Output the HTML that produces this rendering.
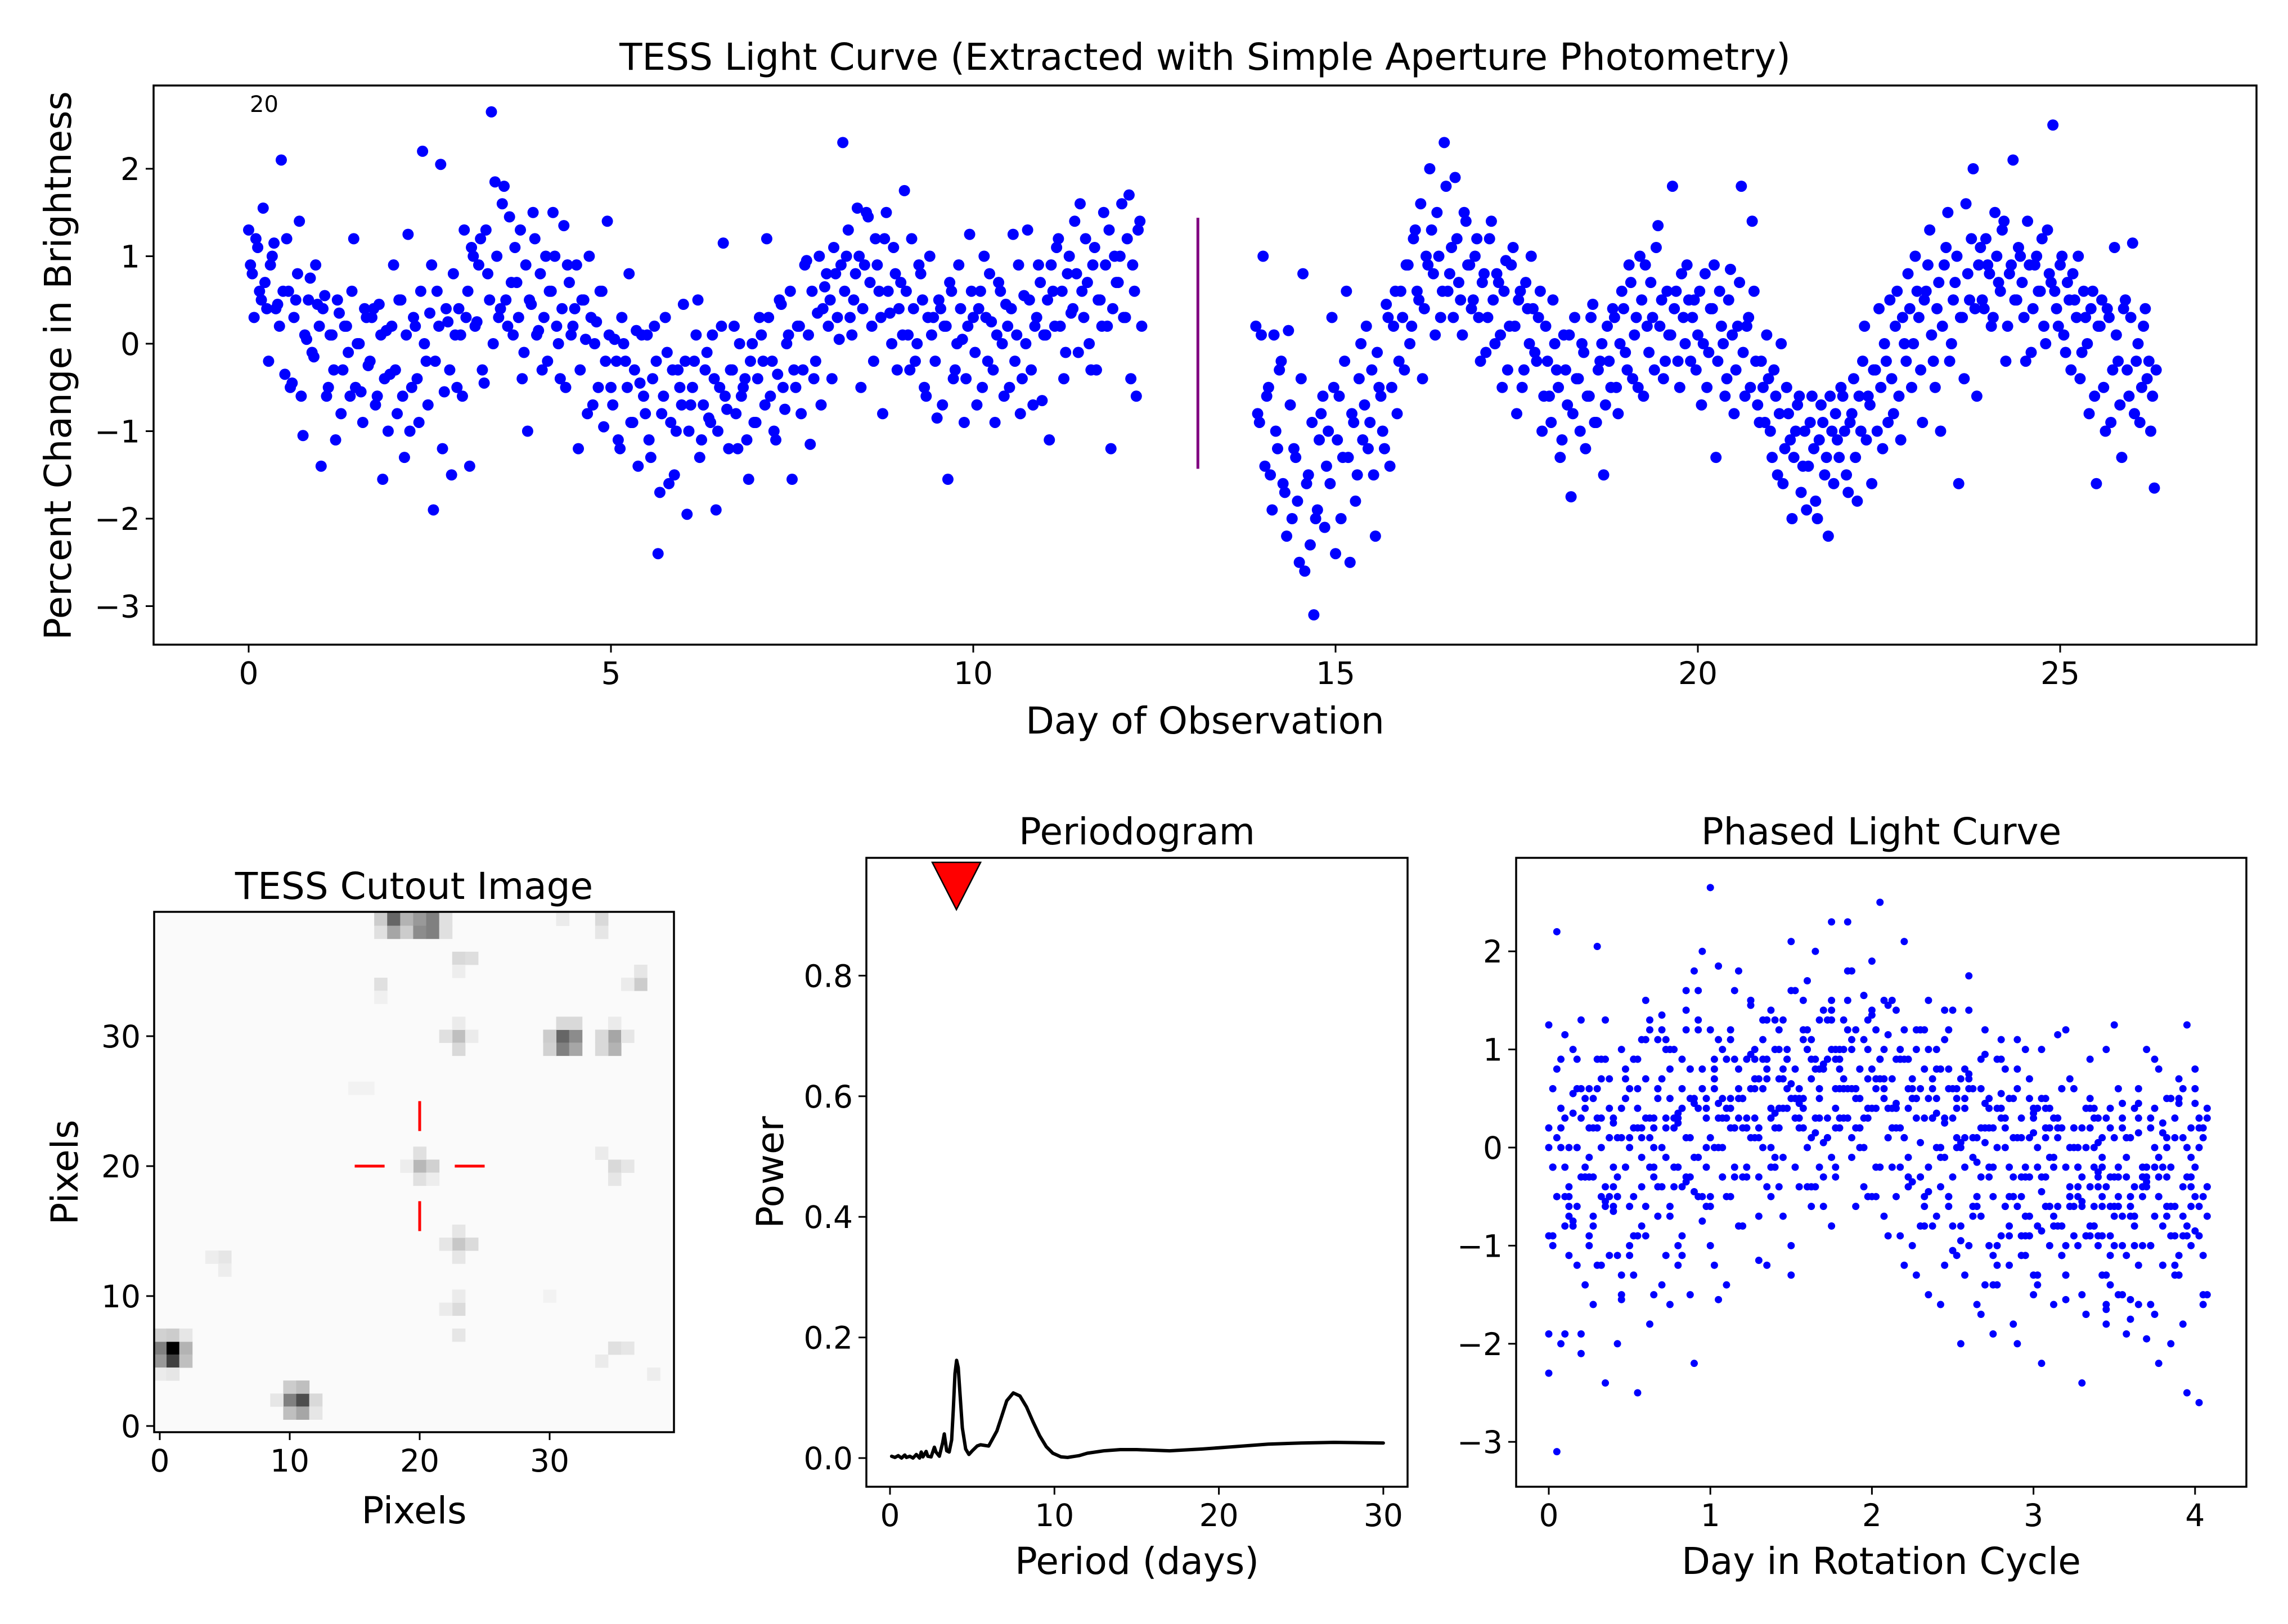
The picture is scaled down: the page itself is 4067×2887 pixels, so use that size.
<!DOCTYPE html>
<html><head><meta charset="utf-8"><style>
html,body{margin:0;padding:0;background:#fff;}
svg{display:block;font-family:"DejaVu Sans","Liberation Sans",sans-serif;}
</style></head><body>
<svg id="fig" xmlns="http://www.w3.org/2000/svg" width="4067" height="2887" viewBox="0 0 4067 2887">
<rect x="0" y="0" width="4067" height="2887" fill="#fff"/>
<g id="gTop"></g>
<g id="gCut"></g>
<g id="gPer"></g>
<g id="gPha"></g>
</svg>
<script>
// ---- Light curve data ----
const cadence = 0.05;
const seg1Start = 0.0;
const seg1Flux = [1.3,0.8,1.2,0.6,1.55,0.4,0.9,1.15,0.45,2.1,-0.35,0.6,-0.45,0.5,1.4,-1.05,0.05,0.75,-0.15,0.45,
-1.4,0.55,-0.5,0.1,-1.1,0.35,-0.3,0.2,-0.6,1.2,0.0,-0.55,0.4,-0.25,0.3,-0.7,0.45,-1.55,0.15,-0.35,
0.9,-0.8,0.5,-1.3,1.25,-0.5,0.2,-0.9,2.2,-0.2,0.35,-1.9,0.6,2.05,-0.55,0.25,-1.5,0.1,0.4,-0.6,
0.3,-1.4,1.0,0.25,1.2,-0.45,0.8,2.65,1.85,0.3,1.6,0.5,1.45,0.1,0.7,1.3,-0.1,-1.0,0.45,1.2,
0.15,-0.3,1.0,0.6,1.5,0.2,-0.4,1.35,0.9,0.1,0.4,-1.2,0.5,0.05,1.0,-0.7,0.25,0.6,-0.95,1.4,
-0.5,0.05,-1.1,0.3,-0.2,0.8,-0.9,0.15,-0.45,-0.6,0.1,-1.3,0.2,-2.4,-0.8,0.3,-1.6,-0.3,-1.0,-0.5,
0.45,-1.95,-0.7,-0.2,0.5,-1.1,-0.3,-0.85,0.1,-1.9,-0.5,1.15,-0.75,-0.3,0.2,-1.2,-0.6,-0.4,-1.55,0.0,
-0.9,0.3,-0.2,1.2,-0.6,-1.0,-0.35,0.45,-0.75,0.1,-1.55,-0.5,0.2,-0.3,0.95,-1.15,-0.4,0.35,-0.7,0.65,
0.2,-0.4,0.8,0.05,2.3,1.0,0.3,0.5,1.55,-0.5,0.9,1.45,0.2,1.2,0.6,-0.8,1.5,0.35,1.1,-0.3,
0.7,1.75,0.1,1.2,-0.2,0.9,0.5,-0.6,1.0,0.3,-0.85,0.4,0.2,-1.55,0.6,-0.3,0.9,0.05,-0.4,1.25,
0.3,-0.7,0.6,1.0,-0.2,0.25,-0.9,0.7,0.0,0.45,-0.5,1.25,0.1,-0.8,0.55,1.3,-0.3,0.2,0.9,-0.65,
0.1,-1.1,0.6,1.1,0.2,-0.4,0.8,0.35,1.4,-0.1,0.6,1.2,0.0,0.9,-0.3,0.5,1.5,0.2,-1.2,1.0,
0.7,1.6,0.3,1.7,0.9,-0.6,1.4];
const seg1FluxB = [0.9,0.3,1.1,0.5,0.7,-0.2,1.0,0.4,0.2,0.6,1.2,-0.5,0.3,0.8,-0.6,0.1,0.5,-0.1,0.9,0.2,
0.4,-0.6,0.1,-0.3,0.5,-0.8,0.2,-0.1,0.6,-0.5,0.0,-0.9,0.3,-0.2,0.4,-0.6,0.1,-0.4,-1.0,0.2,
-0.3,0.5,-0.6,0.1,-1.0,0.3,-0.4,0.6,0.0,-0.7,0.9,-0.2,0.2,-1.2,0.4,-0.3,0.8,-0.5,0.1,1.3,
0.6,1.1,0.2,0.9,-0.3,1.3,0.5,0.0,1.0,0.4,1.8,0.2,0.7,1.1,0.3,-0.4,0.9,0.5,1.5,0.1,
0.8,0.3,-0.2,0.6,1.0,0.0,0.4,-0.5,0.7,0.2,0.9,-0.3,0.5,-0.8,0.3,0.0,-0.5,0.6,-0.2,0.1,
-0.7,-0.2,-1.2,0.0,-0.5,-0.9,-0.3,-1.4,0.1,-0.8,-1.1,-0.4,-0.2,-1.7,-0.6,-0.1,-0.9,-1.5,-0.3,-0.7,
-0.2,-1.0,-0.5,0.1,-1.3,-0.7,-0.1,-0.9,-0.4,-1.0,0.2,-0.6,-1.2,-0.3,-0.8,0.0,-0.5,-1.1,-0.2,-0.9,
-0.4,0.1,-0.7,0.3,-0.2,-1.1,0.5,-0.5,0.0,0.6,-0.3,0.2,-0.8,0.9,0.1,0.6,-0.2,1.0,0.4,0.8,
0.5,1.1,0.3,0.9,0.6,1.3,0.1,0.8,1.0,0.4,1.5,0.7,-0.2,0.9,0.3,1.2,0.6,0.0,0.8,0.4,
0.1,0.6,-0.3,0.4,0.0,0.8,-0.5,0.3,0.1,-0.2,0.5,-0.7,0.2,0.7,-0.4,0.0,0.4,-0.9,0.2,0.6,
-0.1,0.4,-0.5,0.3,0.8,-0.3,0.1,0.6,-0.6,0.2,0.4,-0.2,0.9,-0.4,0.0,0.5,-0.7,0.3,0.7,0.1,
0.5,0.9,0.2,1.2,0.6,-0.1,1.0,0.4,0.8,1.6,0.3,0.7,-0.3,1.1,0.5,0.2,0.9,1.3,0.4,0.7,
1.0,0.3,1.2,-0.4,0.6,1.3,0.2];
const seg2Start = 13.9;
const seg2Flux = [0.2,-0.9,1.0,-0.6,-1.5,0.1,-1.2,-0.2,-1.7,0.15,-2.0,-1.3,-2.5,0.8,-1.6,-2.3,-3.1,-1.9,-0.8,-2.1,
-1.0,0.3,-2.4,-0.6,-1.3,0.6,-2.5,-0.9,-1.5,0.0,-0.7,-1.2,-0.3,-2.2,-0.5,-1.0,0.45,-1.4,0.2,-0.8,
0.6,-0.3,0.9,0.2,1.3,0.5,-0.4,1.0,2.0,0.8,1.5,0.3,2.3,0.6,1.1,1.9,0.7,0.1,1.4,0.9,
0.5,1.2,-0.2,0.8,0.3,1.4,0.0,0.7,-0.5,0.95,0.2,1.1,-0.8,0.6,-0.3,0.4,1.0,-0.1,0.3,-1.0,
0.2,-0.6,0.5,-0.3,-1.3,0.1,-0.7,-1.75,0.3,-0.4,0.0,-1.2,-0.6,0.45,-0.9,-0.2,-1.5,0.2,-0.5,0.3,
-0.8,0.6,-0.1,0.9,-0.4,0.3,1.0,-0.6,0.2,0.7,-0.3,1.35,0.5,-0.2,0.1,1.8,0.6,-0.5,0.3,0.9,
-0.2,0.5,0.1,-0.7,0.8,-0.1,0.4,-1.3,0.6,0.0,-0.4,0.85,-0.8,0.2,1.8,-0.6,0.3,1.4,-0.2,-0.9,
-0.5,0.1,-1.0,-0.3,-1.5,0.0,-1.2,-0.8,-2.0,-1.0,-0.6,-1.4,-1.9,-0.9,-1.2,-2.0,-0.7,-1.5,-2.2,-1.0,
-0.8,-1.3,-0.6,-1.5,-0.9,-0.4,-1.8,-1.0,0.2,-0.6,-1.6,-0.3,0.4,-1.2,-0.2,0.5,-0.8,0.6,-1.1,0.0,
0.8,-0.5,1.0,0.3,-0.9,0.6,1.3,-0.2,0.4,-1.0,0.9,1.5,0.0,0.7,-1.6,0.3,1.6,0.5,2.0,-0.6,
1.1,0.4,0.9,0.2,1.5,0.7,1.3,-0.2,0.8,2.1,0.5,1.0,0.3,1.4,-0.1,0.9,0.6,1.2,0.0,0.8,
2.5,0.4,0.9,0.1,0.7,-0.3,0.5,1.0,-0.1,0.3,-0.8,0.6,-1.6,0.2,-0.5,0.4,-0.9,1.1,-0.2,-1.3,
0.5,-0.6,1.15,-0.2,-0.9,0.2,-0.4,-1.0,-1.65];
const seg2FluxB = [-0.8,0.1,-1.4,-0.5,-1.9,-1.0,-0.3,-1.6,-2.2,-0.7,-1.2,-1.8,-0.4,-2.6,-1.5,-0.9,-2.0,-1.1,-0.6,-1.4,
-1.6,-0.5,-1.1,-2.0,-0.2,-1.3,-0.8,-1.8,-0.4,-1.1,0.2,-0.9,-1.5,-0.1,-0.6,-1.2,0.3,-0.5,0.6,-0.2,
0.3,0.9,0.0,1.2,0.6,1.6,0.4,0.9,1.3,0.1,1.0,0.6,1.8,0.8,0.3,1.2,0.5,1.5,0.9,0.4,
1.0,0.3,0.7,-0.1,1.2,0.5,0.8,0.1,0.6,-0.3,0.9,0.2,0.5,-0.5,0.7,0.0,0.4,-0.2,0.6,-0.6,
-0.2,-0.9,0.0,-0.5,-1.1,-0.3,0.1,-0.8,-0.4,-1.0,-0.1,-0.6,0.3,-0.9,-0.3,0.0,-0.7,-0.2,0.4,-0.5,
0.0,0.4,-0.3,0.7,0.1,-0.5,0.5,0.9,-0.1,0.3,1.1,0.2,-0.4,0.6,0.1,0.4,-0.2,0.8,0.0,0.5,
0.3,-0.3,0.6,0.0,-0.5,0.4,0.9,-0.2,0.2,-0.6,0.5,0.1,-0.3,0.7,-0.1,0.2,-0.5,0.6,-0.7,-0.2,
-0.9,-0.4,-1.3,-0.6,-0.8,-1.6,-0.5,-1.1,-1.3,-0.7,-1.7,-1.0,-1.4,-0.6,-1.8,-1.1,-0.9,-1.3,-0.6,-1.6,
-1.1,-0.5,-1.0,-1.7,-0.8,-1.3,-0.6,-0.2,-1.1,-0.7,-0.3,-1.0,-0.5,0.0,-0.9,-0.4,0.2,-0.6,0.3,-0.2,
0.4,0.0,0.6,-0.3,0.5,0.9,0.1,-0.5,0.7,0.2,1.1,-0.2,0.5,1.0,0.3,-0.4,0.8,1.2,0.4,0.9,
0.5,1.2,0.8,0.3,1.0,0.6,1.4,0.2,0.9,0.5,1.1,0.7,-0.2,0.9,0.4,1.0,0.6,0.2,1.3,0.7,
0.6,0.2,1.0,-0.1,0.5,0.8,0.3,-0.4,0.6,0.0,0.4,-0.6,0.2,0.5,-1.0,0.3,-0.3,0.1,-0.7,0.4,
-0.3,0.3,-0.8,0.0,-0.5,0.4,-0.2,-0.6,-0.3];
const gapLineDay = 13.1;
const gapLineRange = [-1.43, 1.44];
const topXTicks = [0,5,10,15,20,25];
const topYTicks = [-3,-2,-1,0,1,2];
// ---- Periodogram data ----
const perPeriods = [0.1,0.3,0.5,0.7,0.9,1.0,1.2,1.4,1.6,1.8,1.9,2.0,2.2,2.3,2.5,2.7,2.8,3.0,3.2,3.3,3.45,3.6,3.75,3.85,3.95,4.05,4.15,4.25,4.4,4.6,4.8,5.0,5.3,5.5,6.0,6.5,6.8,7.1,7.5,7.9,8.3,8.7,9.1,9.5,9.9,10.4,10.8,11.5,12,13,14,15,17,19,21,23,25,27,30];
const perPower = [0.003,0.001,0.004,0.0,0.005,0.001,0.003,0.0,0.006,0.0,0.01,0.002,0.011,0.003,0.002,0.018,0.01,0.003,0.025,0.04,0.012,0.01,0.03,0.08,0.14,0.162,0.15,0.11,0.05,0.015,0.006,0.012,0.02,0.022,0.02,0.045,0.07,0.095,0.108,0.103,0.085,0.06,0.037,0.019,0.008,0.002,0.001,0.004,0.008,0.012,0.014,0.014,0.012,0.015,0.019,0.023,0.025,0.026,0.025];
const bestPeriod = 4.04;
const perXTicks = [0,10,20,30];
const perYTicks = [0.0,0.2,0.4,0.6,0.8];
// ---- Phased ----
const rotPeriod = 4.1;
const phaseEpoch = 1.75;
const phaXTicks = [0,1,2,3,4];
const phaYTicks = [-3,-2,-1,0,1,2];
// ---- Cutout image: [col,row,gray] ----
const cutCells = [[1,6,0.0],[0,6,0.5],[1,5,0.25],[0,5,0.6],[2,6,0.7],[2,5,0.75],[0,7,0.82],[1,7,0.8],[2,7,0.9],[0,4,0.92],[1,4,0.9],
[10,2,0.5],[11,2,0.3],[10,1,0.75],[11,1,0.65],[10,3,0.8],[11,3,0.75],[12,2,0.85],[9,2,0.9],[12,1,0.9],
[17,39,0.8],[17,38,0.88],[18,39,0.4],[18,38,0.65],[19,39,0.7],[19,38,0.8],[20,39,0.6],[20,38,0.55],[21,39,0.5],[21,38,0.5],[22,39,0.88],[22,38,0.88],
[23,36,0.85],[24,36,0.87],[23,35,0.93],[17,34,0.88],[17,33,0.94],
[31,30,0.4],[31,29,0.5],[32,30,0.55],[32,29,0.65],[30,30,0.8],[30,29,0.82],[31,31,0.85],[32,31,0.85],
[35,30,0.65],[35,29,0.7],[34,30,0.85],[34,29,0.85],[36,30,0.9],[35,31,0.92],
[23,30,0.75],[22,30,0.88],[23,29,0.85],[23,31,0.92],[24,30,0.92],
[20,20,0.72],[21,20,0.82],[20,21,0.88],[19,20,0.93],[20,19,0.88],[21,19,0.93],
[23,14,0.78],[22,14,0.9],[24,14,0.86],[23,15,0.9],[23,13,0.9],
[23,9,0.86],[22,9,0.92],[23,10,0.92],[23,7,0.9],
[35,20,0.85],[36,20,0.9],[34,21,0.92],[35,19,0.9],
[37,34,0.8],[37,35,0.9],[36,34,0.92],[34,39,0.85],[34,38,0.9],[31,39,0.92],
[5,13,0.9],[4,13,0.93],[5,12,0.93],[35,6,0.88],[36,6,0.9],[34,5,0.92],[38,4,0.93],[16,26,0.95],[15,26,0.95],[30,10,0.95]];
const cutTicks = [0,10,20,30];

// ---- scales ----
const xT = d => 442 + 128.8*d, yT = v => 611 - 155.5*v;
const xP = p => 1582 + 29.23*p, yP = w => 2592 - 1072*w;
const xF = p => 2753 + 287.2*p, yF = v => 2040 - 174.4*v;
const xC = c => 284 + 23.1*c, yC = r => 2535 - 23.1*r;
const NS = 'http://www.w3.org/2000/svg';
const TICK = 55, LAB = 66;
function mk(tag, parent, attrs){ const e=document.createElementNS(NS,tag); for(const k in attrs) e.setAttribute(k,attrs[k]); parent.appendChild(e); return e; }
function txt(parent, s, x, y, size, anchor, rot){ const t=mk('text',parent,{x:x,y:y,'font-size':size,'text-anchor':anchor||'middle',fill:'#000'}); if(rot) t.setAttribute('transform','rotate(-90 '+x+' '+y+')'); t.textContent=s; return t; }
function fmt(v,dec){ const s=v.toFixed(dec); return v<0 ? '\u2212'+s.slice(1) : s; }
function frame(g, x0,y0,x1,y1){ const r=mk('rect',g,{x:x0,y:y0,width:x1-x0,height:y1-y0,fill:'none',stroke:'#000','stroke-width':3.5});   }
function xticks(g, ticks, fx, yb, dec, nm){ ticks.forEach(v=>{ const x=fx(v); const l=mk('line',g,{x1:x,x2:x,y1:yb,y2:yb+14,stroke:'#000','stroke-width':3});   const t=txt(g,fmt(v,dec),x,yb+70,TICK);   }); }
function yticks(g, ticks, fy, xl, dec, nm){ ticks.forEach(v=>{ const y=fy(v); const l=mk('line',g,{x1:xl-14,x2:xl,y1:y,y2:y,stroke:'#000','stroke-width':3});   const t=txt(g,fmt(v,dec),xl-24,y+20,TICK,'end');   }); }

// ---- Top light curve ----
const gT=document.getElementById('gTop');
let tt;
tt=txt(gT,'TESS Light Curve (Extracted with Simple Aperture Photometry)',2142,124,LAB);
 
const allT=[], allF=[];
seg1Flux.forEach((f,i)=>{allT.push(seg1Start+i*cadence); allF.push(f);});
seg1FluxB.forEach((f,i)=>{allT.push(seg1Start+(i+0.5)*cadence); allF.push(f);});
seg2Flux.forEach((f,i)=>{allT.push(seg2Start+i*cadence); allF.push(f);});
seg2FluxB.forEach((f,i)=>{allT.push(seg2Start+(i+0.5)*cadence); allF.push(f);});
allT.forEach((t,i)=>{ const c=mk('circle',gT,{cx:xT(t),cy:yT(allF[i]),r:10,fill:'#0000ff'});

 });
const gl=mk('line',gT,{x1:xT(gapLineDay),x2:xT(gapLineDay),y1:yT(gapLineRange[0]),y2:yT(gapLineRange[1]),stroke:'#800080','stroke-width':5});
 
tt=txt(gT,'20',444,199,40,'start');  
frame(gT,273,152,4011,1146);
xticks(gT,topXTicks,xT,1146,0,'light-curve');
yticks(gT,topYTicks,yT,273,0,'light-curve');
tt=txt(gT,'Day of Observation',2142,1304,LAB);  
tt=txt(gT,'Percent Change in Brightness',126,650,LAB,'middle',true);  

// ---- Cutout ----
const gC=document.getElementById('gCut');
mk('rect',gC,{x:274,y:1621,width:924,height:925,fill:'#fafafa'});
cutCells.forEach(c=>{ const v=Math.round(c[2]*255); const r=mk('rect',gC,{x:xC(c[0]-0.5),y:yC(c[1]+0.5),width:23.6,height:23.6,fill:'rgb('+v+','+v+','+v+')'});

 });
[[15,20,17.3,20],[22.7,20,25,20],[20,22.7,20,25],[20,15,20,17.3]].forEach(s=>{ const l=mk('line',gC,{x1:xC(s[0]),y1:yC(s[1]),x2:xC(s[2]),y2:yC(s[3]),stroke:'#ff0000','stroke-width':5});

 });
frame(gC,274,1621,1198,2546);
xticks(gC,cutTicks,xC,2546,0,'cutout');
yticks(gC,cutTicks,yC,274,0,'cutout');
tt=txt(gC,'TESS Cutout Image',736,1598,LAB);  
tt=txt(gC,'Pixels',736,2708,LAB);  
tt=txt(gC,'Pixels',138,2084,LAB,'middle',true);  

// ---- Periodogram ----
const gP=document.getElementById('gPer');
const pd=perPeriods.map((p,i)=>(i?'L':'M')+xP(p).toFixed(1)+' '+yP(perPower[i]).toFixed(1)).join(' ');
const pl=mk('path',gP,{d:pd,fill:'none',stroke:'#000','stroke-width':6,'stroke-linejoin':'round','stroke-linecap':'round'});
 
const bx=xP(bestPeriod);
const tri=mk('path',gP,{d:'M'+(bx-43)+' 1533 L'+(bx+43)+' 1533 L'+bx+' 1617 Z',fill:'#ff0000',stroke:'#000','stroke-width':2.5});
 
frame(gP,1540,1525,2502,2643);
xticks(gP,perXTicks,xP,2643,0,'periodogram');
yticks(gP,perYTicks,yP,1540,1,'periodogram');
tt=txt(gP,'Periodogram',2021,1501,LAB);  
tt=txt(gP,'Period (days)',2021,2798,LAB);  
tt=txt(gP,'Power',1392,2084,LAB,'middle',true);  

// ---- Phased ----
const gF=document.getElementById('gPha');
allT.forEach((t,i)=>{ const ph=(t+phaseEpoch) % rotPeriod; const c=mk('circle',gF,{cx:xF(ph),cy:yF(allF[i]),r:6.5,fill:'#0000ff'});

 });
frame(gF,2695,1525,3993,2643);
xticks(gF,phaXTicks,xF,2643,0,'phased');
yticks(gF,phaYTicks,yF,2695,0,'phased');
tt=txt(gF,'Phased Light Curve',3344,1501,LAB);  
tt=txt(gF,'Day in Rotation Cycle',3344,2798,LAB);  
</script>
</body></html>
